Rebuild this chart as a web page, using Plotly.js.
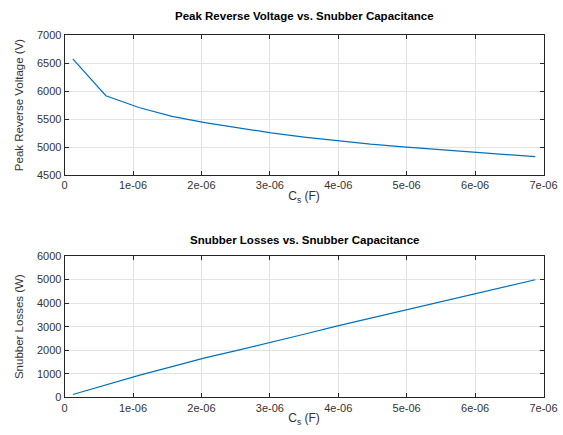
<!DOCTYPE html>
<html>
<head>
<meta charset="utf-8">
<script src="https://cdn.plot.ly/plotly-3.0.1.min.js"></script>
<style>html,body{margin:0;padding:0;background:#fff;}#chart{width:563px;height:435px;}</style>
</head>
<body>
<div id="chart"></div>
<script>
// Snubber capacitance (F)
const capacitance = [0.12e-6, 0.603e-6, 1.086e-6, 1.57e-6, 2.05e-6, 2.54e-6, 3.02e-6, 3.50e-6, 3.99e-6, 4.47e-6, 4.95e-6, 5.43e-6, 5.92e-6, 6.40e-6, 6.88e-6];
// Peak reverse voltage (V)
const peakVoltage = [6575, 5915, 5705, 5548, 5436, 5338, 5252, 5178, 5108, 5052, 5003, 4957, 4912, 4868, 4827];
// Snubber losses (W)
const snubberLosses = [120, 530, 928, 1300, 1673, 2006, 2332, 2679, 3033, 3353, 3674, 4005, 4344, 4668, 4990];

const xTickVals = [0, 1e-6, 2e-6, 3e-6, 4e-6, 5e-6, 6e-6, 7e-6];
const xTickText = ["0", "1e-06", "2e-06", "3e-06", "4e-06", "5e-06", "6e-06", "7e-06"];
const yTopTicks = [4500, 5000, 5500, 6000, 6500, 7000];
const yBotTicks = [0, 1000, 2000, 3000, 4000, 5000, 6000];

const FONT = "Liberation Sans, Arial, Helvetica, sans-serif";
const TXT = "#262626";
const lineColor = "#0072BD";

const axisCommon = {
  showline: true, linecolor: TXT, linewidth: 1, mirror: "ticks",
  ticks: "inside", ticklen: 4, tickcolor: TXT, tickwidth: 1,
  showgrid: true, gridcolor: "#e3e3e3", gridwidth: 1,
  zeroline: false, tickfont: {family: FONT, size: 11, color: "#333"},
  automargin: false
};

const traces = [
  {x: capacitance, y: peakVoltage, type: "scatter", mode: "lines", xaxis: "x", yaxis: "y",
   line: {color: lineColor, width: 1.2}, hoverinfo: "skip"},
  {x: capacitance, y: snubberLosses, type: "scatter", mode: "lines", xaxis: "x2", yaxis: "y2",
   line: {color: lineColor, width: 1.2}, hoverinfo: "skip"}
];

const xDom = [64.6/563, 543.5/563];
const layout = {
  width: 563, height: 435,
  margin: {l: 0, r: 0, t: 0, b: 0},
  paper_bgcolor: "#fff", plot_bgcolor: "#fff",
  showlegend: false,
  font: {family: FONT, color: TXT},
  xaxis: Object.assign({}, axisCommon, {domain: xDom, range: [0, 7e-6], tickvals: xTickVals, ticktext: xTickText,
    anchor: "y", title: {text: "C<sub>s</sub> (F)", font: {family: FONT, size: 12, color: "#333"}, standoff: 1}}),
  yaxis: Object.assign({}, axisCommon, {domain: [1-175/435, 1-35/435], range: [4500, 7000], tickvals: yTopTicks,
    anchor: "x", title: {text: "Peak Reverse Voltage (V)", font: {family: FONT, size: 11.5, color: "#333"}, standoff: 10}}),
  xaxis2: Object.assign({}, axisCommon, {domain: xDom, range: [0, 7e-6], tickvals: xTickVals, ticktext: xTickText,
    anchor: "y2", title: {text: "C<sub>s</sub> (F)", font: {family: FONT, size: 12, color: "#333"}, standoff: 1}}),
  yaxis2: Object.assign({}, axisCommon, {domain: [1-397.3/435, 1-256/435], range: [0, 6000], tickvals: yBotTicks,
    anchor: "x2", title: {text: "Snubber Losses (W)", font: {family: FONT, size: 11.5, color: "#333"}, standoff: 10}}),
  annotations: [
    {text: "<b>Peak Reverse Voltage vs. Snubber Capacitance</b>", xref: "paper", yref: "paper",
     x: 304/563, y: 1-16/435, xanchor: "center", yanchor: "middle", showarrow: false,
     font: {family: FONT, size: 11.5, color: "#000"}},
    {text: "<b>Snubber Losses vs. Snubber Capacitance</b>", xref: "paper", yref: "paper",
     x: 304/563, y: 1-240/435, xanchor: "center", yanchor: "middle", showarrow: false,
     font: {family: FONT, size: 11.5, color: "#000"}}
  ]
};

Plotly.newPlot("chart", traces, layout, {staticPlot: true, displayModeBar: false});
</script>
</body>
</html>
